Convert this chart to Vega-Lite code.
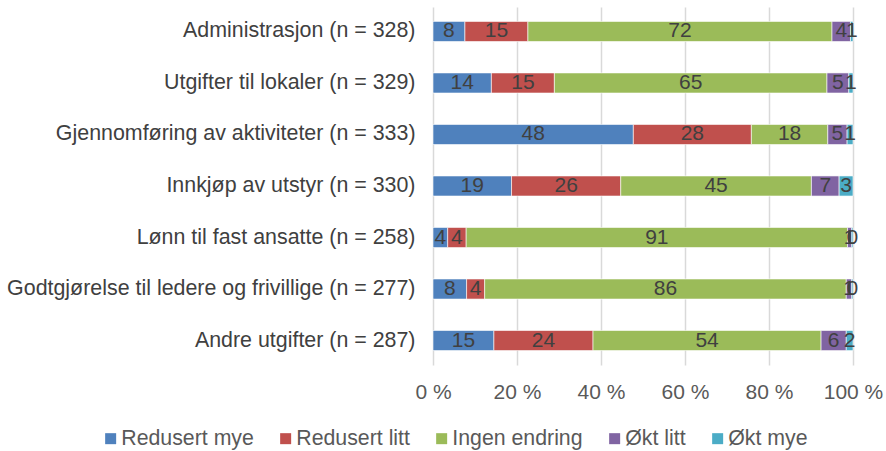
{
  "$schema": "https://vega.github.io/schema/vega-lite/v6.json",
  "autosize": {"type": "none"},
  "width": 420,
  "height": 358,
  "padding": {"left": 433, "top": 7, "right": 33, "bottom": 86},
  "background": "white",
  "config": {
    "font": "Liberation Sans",
    "view": {"stroke": null}
  },
  "datasets": {
    "svar": [
      {"post": "Administrasjon (n = 328)", "svar": "Redusert mye", "nr": 1, "andel": 7.6},
      {"post": "Administrasjon (n = 328)", "svar": "Redusert litt", "nr": 2, "andel": 15.0},
      {"post": "Administrasjon (n = 328)", "svar": "Ingen endring", "nr": 3, "andel": 72.4},
      {"post": "Administrasjon (n = 328)", "svar": "Økt litt", "nr": 4, "andel": 4.4},
      {"post": "Administrasjon (n = 328)", "svar": "Økt mye", "nr": 5, "andel": 0.6},
      {"post": "Utgifter til lokaler (n = 329)", "svar": "Redusert mye", "nr": 1, "andel": 13.9},
      {"post": "Utgifter til lokaler (n = 329)", "svar": "Redusert litt", "nr": 2, "andel": 15.0},
      {"post": "Utgifter til lokaler (n = 329)", "svar": "Ingen endring", "nr": 3, "andel": 64.9},
      {"post": "Utgifter til lokaler (n = 329)", "svar": "Økt litt", "nr": 4, "andel": 5.2},
      {"post": "Utgifter til lokaler (n = 329)", "svar": "Økt mye", "nr": 5, "andel": 1.0},
      {"post": "Gjennomføring av aktiviteter (n = 333)", "svar": "Redusert mye", "nr": 1, "andel": 47.7},
      {"post": "Gjennomføring av aktiviteter (n = 333)", "svar": "Redusert litt", "nr": 2, "andel": 28.1},
      {"post": "Gjennomføring av aktiviteter (n = 333)", "svar": "Ingen endring", "nr": 3, "andel": 18.2},
      {"post": "Gjennomføring av aktiviteter (n = 333)", "svar": "Økt litt", "nr": 4, "andel": 4.6},
      {"post": "Gjennomføring av aktiviteter (n = 333)", "svar": "Økt mye", "nr": 5, "andel": 1.4},
      {"post": "Innkjøp av utstyr (n = 330)", "svar": "Redusert mye", "nr": 1, "andel": 18.7},
      {"post": "Innkjøp av utstyr (n = 330)", "svar": "Redusert litt", "nr": 2, "andel": 26.0},
      {"post": "Innkjøp av utstyr (n = 330)", "svar": "Ingen endring", "nr": 3, "andel": 45.4},
      {"post": "Innkjøp av utstyr (n = 330)", "svar": "Økt litt", "nr": 4, "andel": 6.6},
      {"post": "Innkjøp av utstyr (n = 330)", "svar": "Økt mye", "nr": 5, "andel": 3.3},
      {"post": "Lønn til fast ansatte (n = 258)", "svar": "Redusert mye", "nr": 1, "andel": 3.5},
      {"post": "Lønn til fast ansatte (n = 258)", "svar": "Redusert litt", "nr": 2, "andel": 4.4},
      {"post": "Lønn til fast ansatte (n = 258)", "svar": "Ingen endring", "nr": 3, "andel": 90.8},
      {"post": "Lønn til fast ansatte (n = 258)", "svar": "Økt litt", "nr": 4, "andel": 1.0},
      {"post": "Lønn til fast ansatte (n = 258)", "svar": "Økt mye", "nr": 5, "andel": 0.3},
      {"post": "Godtgjørelse til ledere og frivillige (n = 277)", "svar": "Redusert mye", "nr": 1, "andel": 8.0},
      {"post": "Godtgjørelse til ledere og frivillige (n = 277)", "svar": "Redusert litt", "nr": 2, "andel": 4.3},
      {"post": "Godtgjørelse til ledere og frivillige (n = 277)", "svar": "Ingen endring", "nr": 3, "andel": 86.1},
      {"post": "Godtgjørelse til ledere og frivillige (n = 277)", "svar": "Økt litt", "nr": 4, "andel": 1.3},
      {"post": "Godtgjørelse til ledere og frivillige (n = 277)", "svar": "Økt mye", "nr": 5, "andel": 0.3},
      {"post": "Andre utgifter (n = 287)", "svar": "Redusert mye", "nr": 1, "andel": 14.5},
      {"post": "Andre utgifter (n = 287)", "svar": "Redusert litt", "nr": 2, "andel": 23.6},
      {"post": "Andre utgifter (n = 287)", "svar": "Ingen endring", "nr": 3, "andel": 54.3},
      {"post": "Andre utgifter (n = 287)", "svar": "Økt litt", "nr": 4, "andel": 6.0},
      {"post": "Andre utgifter (n = 287)", "svar": "Økt mye", "nr": 5, "andel": 1.6}
    ]
  },
  "data": {"name": "svar"},
  "transform": [
    {"stack": "andel", "groupby": ["post"], "sort": [{"field": "nr", "order": "ascending"}], "as": ["fra", "til"]},
    {"calculate": "(datum.fra + datum.til) / 2", "as": "midt"}
  ],
  "encoding": {
    "y": {
      "field": "post",
      "type": "nominal",
      "sort": null,
      "scale": {"paddingInner": 0.61, "paddingOuter": 0.28},
      "axis": {
        "title": null,
        "domain": false,
        "ticks": false,
        "labelFontSize": 21.4,
        "labelColor": "#404040",
        "labelPadding": 18,
        "labelLimit": 440
      }
    }
  },
  "layer": [
    {
      "mark": {"type": "bar", "stroke": "white", "strokeWidth": 0.6},
      "encoding": {
        "x": {
          "field": "fra",
          "type": "quantitative",
          "scale": {"domain": [0, 100], "nice": false},
          "axis": {
            "title": null,
            "values": [0, 20, 40, 60, 80, 100],
            "labelExpr": "datum.value + ' %'",
            "labelFontSize": 21,
            "labelColor": "#595959",
            "labelPadding": 16,
            "labelFlush": false,
            "labelOverlap": false,
            "labelBound": false,
            "domain": false,
            "ticks": false,
            "grid": true,
            "gridColor": "#d9d9d9",
            "gridWidth": 1.5
          }
        },
        "x2": {"field": "til"},
        "color": {
          "field": "svar",
          "type": "nominal",
          "scale": {
            "domain": ["Redusert mye", "Redusert litt", "Ingen endring", "Økt litt", "Økt mye"],
            "range": ["#4F81BD", "#C0504D", "#9BBB59", "#8064A2", "#4BACC6"]
          },
          "legend": {
            "title": null,
            "orient": "none",
            "direction": "horizontal",
            "legendX": -333,
            "legendY": 421,
            "symbolType": "square",
            "symbolSize": 121,
            "symbolStrokeWidth": 0,
            "symbolOpacity": 1,
            "labelFontSize": 21.3,
            "labelColor": "#595959",
            "labelOffset": 0,
            "columnPadding": 21
          }
        }
      }
    },
    {
      "mark": {"type": "text", "fontSize": 21, "color": "#404040"},
      "encoding": {
        "x": {"field": "midt", "type": "quantitative"},
        "text": {"field": "andel", "type": "quantitative", "format": ".0f"}
      }
    }
  ]
}
